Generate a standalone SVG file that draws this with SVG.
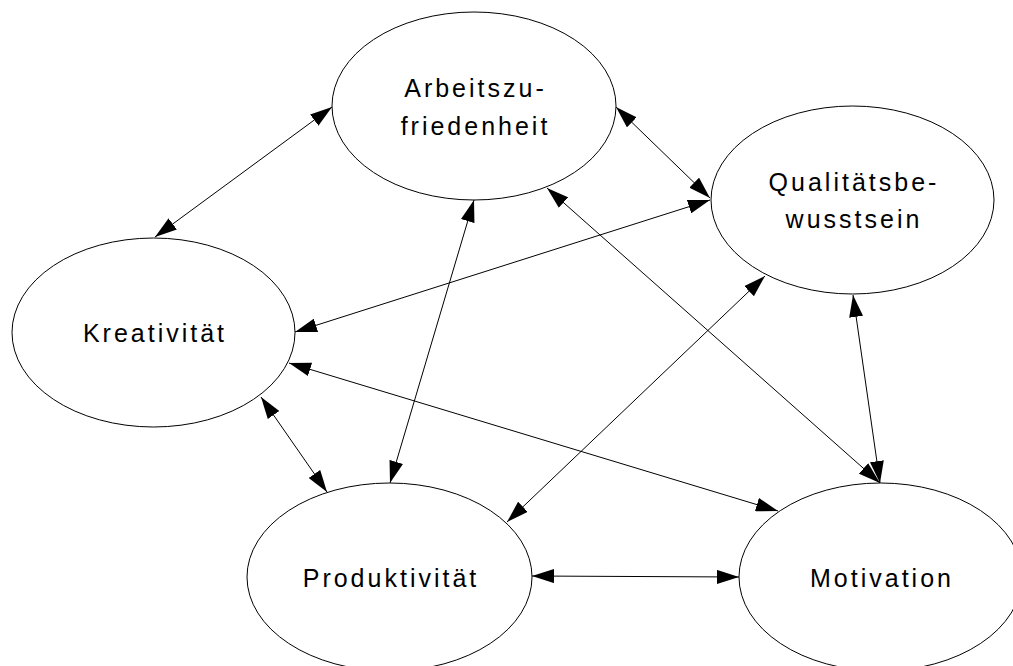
<svg xmlns="http://www.w3.org/2000/svg" width="1013" height="666" viewBox="0 0 1013 666">
  <style>
    .node ellipse { fill: #fff; stroke: #000; stroke-width: 1; }
    .node text { font-family: "Liberation Sans", Arial, sans-serif; font-size: 25px; letter-spacing: 3px; fill: #000; text-anchor: middle; }
    .edges line { stroke: #000; stroke-width: 1; marker-start: url(#head); marker-end: url(#head); }
  </style>
  <defs>
    <marker id="head" markerUnits="userSpaceOnUse" markerWidth="23" markerHeight="14" refX="22" refY="7" orient="auto-start-reverse">
      <path d="M0,0 L22,7 L0,14 Z" fill="#000"/>
    </marker>
  </defs>
  <rect width="1013" height="666" fill="#fff"/>

  <g id="nodes">
    <g id="arbeitszufriedenheit" class="node">
      <ellipse cx="474" cy="106" rx="142" ry="94"/>
      <text x="475.5" y="97">Arbeitszu-</text>
      <text x="475.5" y="135">friedenheit</text>
    </g>
    <g id="qualitaetsbewusstsein" class="node">
      <ellipse cx="852.5" cy="200" rx="141.5" ry="94"/>
      <text x="854" y="191">Qualitätsbe-</text>
      <text x="854" y="228">wusstsein</text>
    </g>
    <g id="kreativitaet" class="node">
      <ellipse cx="153.5" cy="332.5" rx="141.5" ry="94.5"/>
      <text x="155" y="342">Kreativität</text>
    </g>
    <g id="produktivitaet" class="node">
      <ellipse cx="389.5" cy="577" rx="142.5" ry="94"/>
      <text x="391" y="587">Produktivität</text>
    </g>
    <g id="motivation" class="node">
      <ellipse cx="880.5" cy="577" rx="141.5" ry="94"/>
      <text x="882" y="587">Motivation</text>
    </g>
  </g>

  <g id="connectors" class="edges">
    <line x1="332" y1="107" x2="155" y2="237"/>
    <line x1="616" y1="107" x2="710" y2="198"/>
    <line x1="295" y1="332" x2="710" y2="200"/>
    <line x1="474" y1="200" x2="390" y2="483"/>
    <line x1="547" y1="188" x2="880" y2="483"/>
    <line x1="853" y1="295" x2="880" y2="483"/>
    <line x1="289" y1="363" x2="778" y2="511"/>
    <line x1="261" y1="397" x2="327" y2="492"/>
    <line x1="765" y1="276" x2="507" y2="522"/>
    <line x1="532" y1="576" x2="739" y2="577"/>
  </g>
</svg>
